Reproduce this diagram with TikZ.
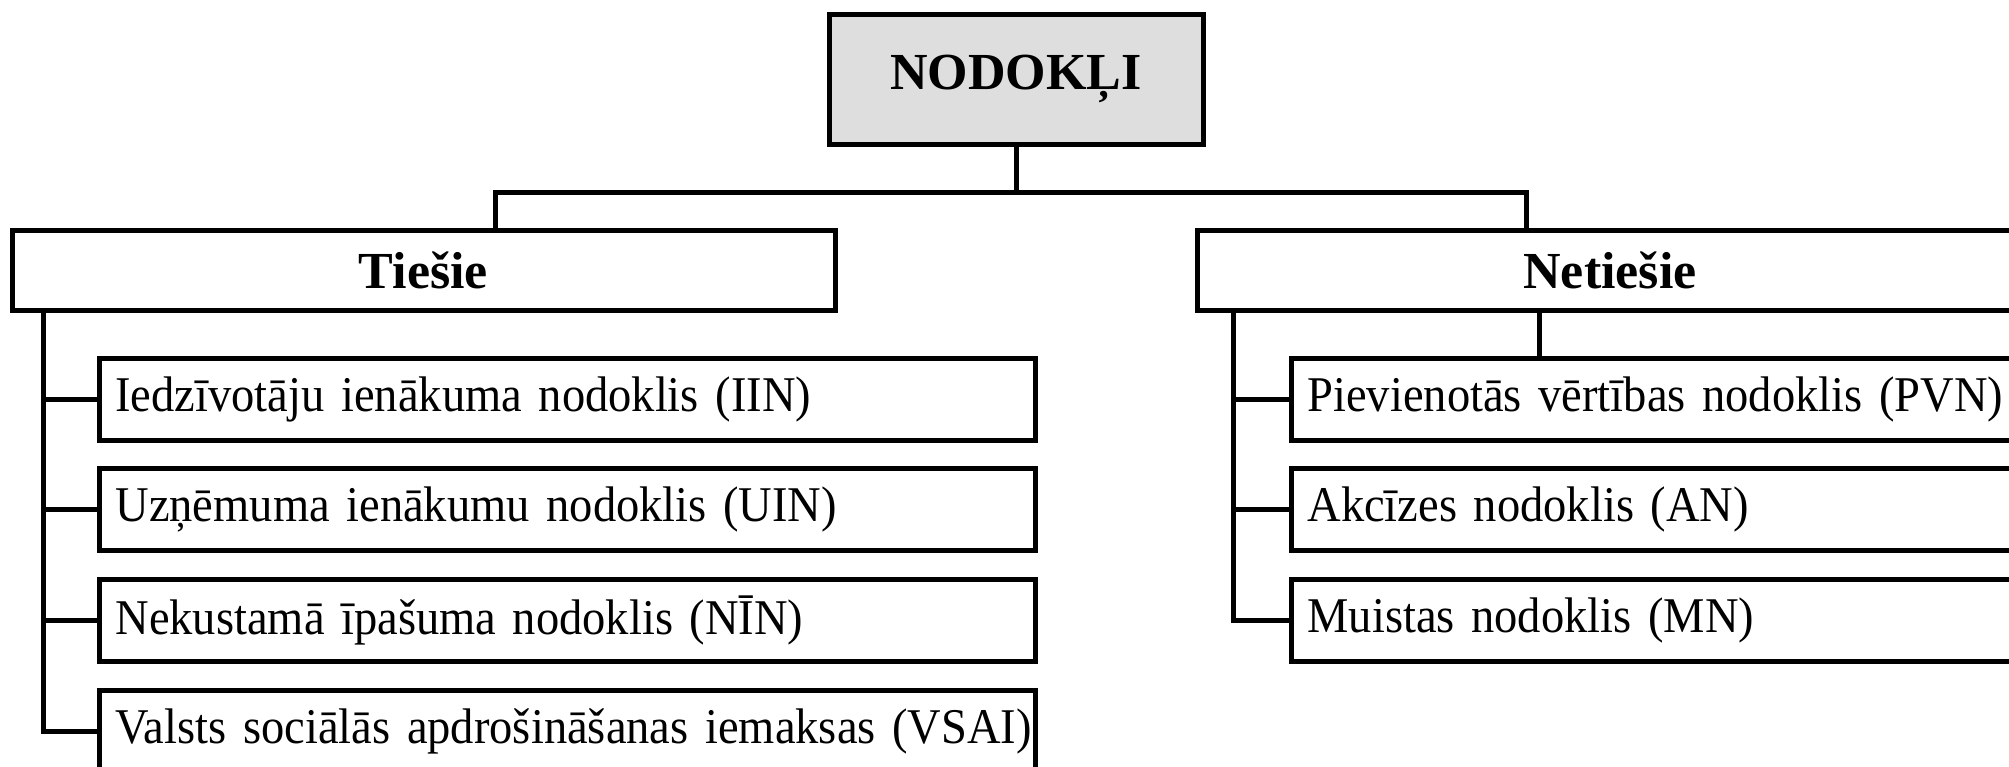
\documentclass[tikz,border=0pt]{standalone}
\usepackage{fontspec}
\setmainfont{Liberation Serif}
\newfontfamily\childfont{Liberation Serif}[FakeStretch=0.93]
\begin{document}
\begin{tikzpicture}[x=1pt,y=-1pt,line width=5pt,
  every node/.style={draw=black,line width=5pt,inner sep=0pt,font=\childfont\fontsize{50}{54}\selectfont},
  headbox/.style={minimum height=80pt,align=center,font=\fontsize{52}{56}\selectfont\bfseries},
  leftchild/.style={anchor=north west,minimum height=82pt,inner xsep=16pt,text width=904pt,align=left},
  rightchild/.style={anchor=north west,minimum height=82pt,inner xsep=16pt,text width=702pt,align=left}]
\useasboundingbox (0,0) rectangle (2009,766);
\clip (0,0) rectangle (2009,766);
% top
\node[fill=black!13,minimum width=374pt,minimum height=130pt,font=\fontsize{52}{56}\selectfont\bfseries] (top) at (1016,79) {NODOKĻI};
% headers
\node[headbox,minimum width=823pt] (tiesie) at (423.5,270) {Tiešie};
\node[headbox,minimum width=826pt] (netiesie) at (1610,270) {Netiešie};
% left children
\node[leftchild] (l1) at (97,356) {\mbox{Iedzīvotāju ienākuma nodoklis (IIN)}};
\node[leftchild] (l2) at (97,466) {\mbox{Uzņēmuma ienākumu nodoklis (UIN)}};
\node[leftchild] (l3) at (97,577) {\mbox{Nekustamā īpašuma nodoklis (NĪN)}};
\node[leftchild] (l4) at (97,688) {\mbox{Valsts sociālās apdrošināšanas iemaksas (VSAI)}};
% right children
\node[rightchild] (r1) at (1289,356) {\mbox{Pievienotās vērtības nodoklis (PVN)}};
\node[rightchild] (r2) at (1289,466) {\mbox{Akcīzes nodoklis (AN)}};
\node[rightchild] (r3) at (1289,577) {\mbox{Muistas nodoklis (MN)}};
% connectors
\coordinate (jL) at (495,192);
\coordinate (jR) at (1526,192);
\coordinate (tL) at (43,0);
\coordinate (tR) at (1233,0);
\coordinate (xR) at (1539,0);
\draw (top.south) -- (top.south |- jL);
\draw (tiesie.north -| jL) -- (jL) -- (jR) -- (netiesie.north -| jR);
\draw (tiesie.south -| tL) |- (l4.west);
\foreach \c in {l1,l2,l3} \draw (\c.west -| tL) -- (\c.west);
\draw (netiesie.south -| tR) |- (r3.west);
\foreach \c in {r1,r2} \draw (\c.west -| tR) -- (\c.west);
\draw (netiesie.south -| xR) -- (r1.north -| xR);
\end{tikzpicture}
\end{document}
